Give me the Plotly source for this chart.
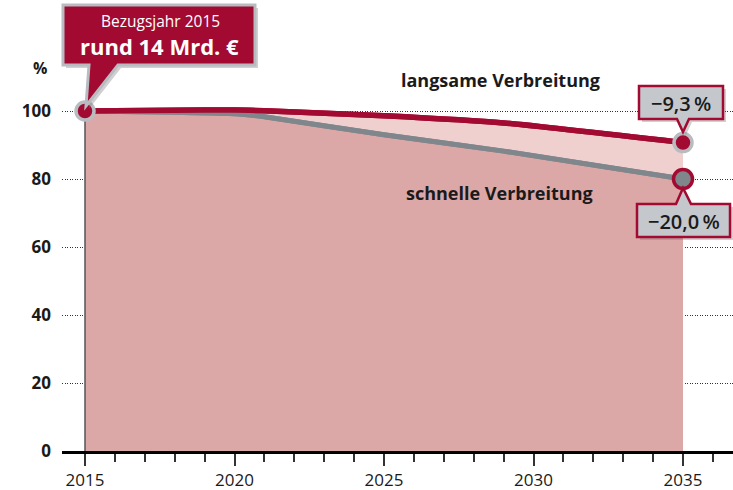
import plotly.graph_objects as go

# values (index 2015 = 100)
years = [2015, 2018, 2020, 2021, 2025, 2029, 2035]
langsam = [100, 100.2, 100.3, 100.1, 98.6, 96.5, 90.7]
schnell = [100, 99.6, 99.2, 98.3, 93.0, 88.2, 80.0]
y_ticks = [0, 20, 40, 60, 80, 100]
x_ticks = [2015, 2020, 2025, 2030, 2035]
label_slow = "langsame Verbreitung"
label_fast = "schnelle Verbreitung"
box_top = ["Bezugsjahr 2015", "rund 14 Mrd. €"]
box_slow = "−9,3\u2009%"
box_fast = "−20,0\u2009%"

RED = "#a30a32"
GREY = "#80878c"
BOXGREY = "#c4c7cc"
FONT = "Open Sans"

# plot area in pixels (for placing the callouts)
L, T, W, H = 62, 0, 671, 451


def px(x):
    return (x - L) / W


def py(y):
    return (T + H - y) / H


def path(points):
    s = "M " + " L ".join(f"{px(a):.5f},{py(b):.5f}" for a, b in points) + " Z"
    return s


fig = go.Figure()

# lower area (schnelle Verbreitung) and band up to langsame Verbreitung
fig.add_trace(go.Scatter(x=years, y=schnell, mode="lines", fill="tozeroy",
                         fillcolor="#dca8a7", line=dict(color=GREY, width=5, shape="spline", smoothing=0.5),
                         hoverinfo="skip"))
fig.add_trace(go.Scatter(x=years, y=langsam, mode="lines", fill="tonexty",
                         fillcolor="#f0cfcf", line=dict(color=RED, width=5.5, shape="spline", smoothing=0.5),
                         hoverinfo="skip"))
# redraw grey line on top of the band
fig.add_trace(go.Scatter(x=years, y=schnell, mode="lines",
                         line=dict(color=GREY, width=5, shape="spline", smoothing=0.5), hoverinfo="skip"))
fig.add_trace(go.Scatter(x=years, y=langsam, mode="lines",
                         line=dict(color=RED, width=5.5, shape="spline", smoothing=0.5), hoverinfo="skip"))
# left edge of the area
fig.add_trace(go.Scatter(x=[years[0], years[0]], y=[0, langsam[0]], mode="lines",
                         line=dict(color="#555555", width=1.5), hoverinfo="skip"))

# end markers
fig.add_trace(go.Scatter(x=[years[0], years[-1]], y=[langsam[0], langsam[-1]], mode="markers",
                         marker=dict(size=18, color=RED, line=dict(color="#b8bcc0", width=3.5))))
fig.add_trace(go.Scatter(x=[years[-1]], y=[schnell[-1]], mode="markers",
                         marker=dict(size=19, color=GREY, line=dict(color=RED, width=3.5))))

shapes = []
# top-left callout
bubble1 = [(63, 5), (255, 5), (255, 65), (118, 65), (86, 106), (89, 65), (63, 65)]
shadow1 = [(a + 3, b + 3) for a, b in bubble1]
shapes.append(dict(type="path", xref="paper", yref="paper", path=path(shadow1),
                   fillcolor="rgba(120,120,120,0.35)", line=dict(width=0), layer="above"))
shapes.append(dict(type="path", xref="paper", yref="paper", path=path(bubble1),
                   fillcolor=RED, line=dict(color="#b8bcc0", width=3), layer="above"))
# -9,3 % callout
bubble2 = [(639, 86), (723, 86), (723, 119), (689, 119), (683, 132), (677, 119), (639, 119)]
shapes.append(dict(type="path", xref="paper", yref="paper", path=path([(a + 3, b + 3) for a, b in bubble2]),
                   fillcolor="rgba(120,120,120,0.35)", line=dict(width=0), layer="above"))
shapes.append(dict(type="path", xref="paper", yref="paper", path=path(bubble2),
                   fillcolor=BOXGREY, line=dict(color=RED, width=2.5), layer="above"))
# -20,0 % callout
bubble3 = [(637, 204), (676, 204), (683, 188), (691, 204), (730, 204), (730, 237), (637, 237)]
shapes.append(dict(type="path", xref="paper", yref="paper", path=path([(a + 3, b + 3) for a, b in bubble3]),
                   fillcolor="rgba(120,120,120,0.35)", line=dict(width=0), layer="above"))
shapes.append(dict(type="path", xref="paper", yref="paper", path=path(bubble3),
                   fillcolor=BOXGREY, line=dict(color=RED, width=2.5), layer="above"))

ann = []


def text(x, y, s, size, color="#1a1a1a", weight="bold", xanchor="center"):
    ann.append(dict(x=px(x), y=py(y), xref="paper", yref="paper", text=s, showarrow=False,
                    xanchor=xanchor, yanchor="middle",
                    font=dict(family=FONT, size=size, color=color, weight=weight)))


text(160, 21, box_top[0], 15.5, color="white", weight="normal")
text(159, 46, box_top[1], 22, color="white")
text(681, 103, box_slow, 20, weight=600)
text(684, 221, box_fast, 20, weight=600)
text(500, 80, label_slow, 18)
text(499, 193, label_fast, 18)
text(40, 68, "%", 16)

fig.update_layout(
    width=733, height=490,
    margin=dict(l=L, r=733 - L - W, t=T, b=490 - T - H),
    paper_bgcolor="white", plot_bgcolor="white",
    showlegend=False,
    shapes=shapes, annotations=ann,
    font=dict(family=FONT, color="#1a1a1a"),
)
fig.update_xaxes(range=[2015 - 23 / 29.9, 2015 + 648 / 29.9], automargin=False,
                 tickvals=x_ticks, ticks="outside", ticklen=12, tickwidth=1.5, tickcolor="#333333",
                 minor=dict(dtick=1, tick0=2015, ticks="outside", ticklen=8, tickwidth=1.5, tickcolor="#333333"),
                 showline=True, linecolor="black", linewidth=3, showgrid=False, zeroline=False,
                 ticklabelstandoff=0,
                 tickfont=dict(size=17, color="#1a1a1a"))
fig.update_yaxes(range=[0, H / 3.4], automargin=False, tickvals=y_ticks, showgrid=True, gridcolor="#333333",
                 griddash="1px,1.5px", gridwidth=1, zeroline=False, showline=False,
                 ticklabelstandoff=10,
                 tickfont=dict(size=17, color="#1a1a1a", weight="bold"))

# page body has a default 8px margin; remove it so the figure fills the window
fig.write_html("out.html", config={"displayModeBar": False},
               post_script="document.body.style.margin='0px';")
